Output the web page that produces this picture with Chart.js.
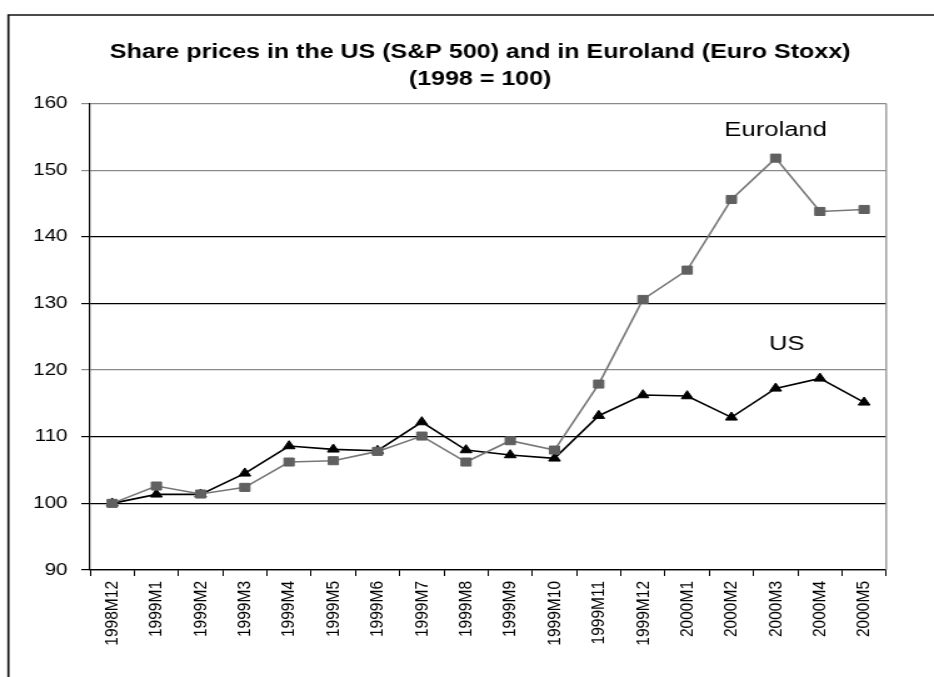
<!DOCTYPE html>
<html>
<head>
<meta charset="utf-8">
<script src="https://cdn.jsdelivr.net/npm/chart.js@4/dist/chart.umd.min.js"></script>
<style>
  html, body { margin: 0; padding: 0; background: #fff; }
</style>
</head>
<body>
<canvas id="c" width="747" height="677" style="display:block;width:934px;height:677px;"></canvas>
<script>
// ---- data ----
const categories = ['1998M12','1999M1','1999M2','1999M3','1999M4','1999M5','1999M6','1999M7','1999M8','1999M9','1999M10','1999M11','1999M12','2000M1','2000M2','2000M3','2000M4','2000M5'];
const euroland = [100, 102.6, 101.4, 102.4, 106.2, 106.4, 107.8, 110.1, 106.2, 109.4, 108.0, 117.9, 130.6, 135.0, 145.6, 151.8, 143.8, 144.1];
const us = [100, 101.35, 101.35, 104.5, 108.6, 108.1, 107.9, 112.2, 108.0, 107.25, 106.75, 113.15, 116.25, 116.1, 112.9, 117.25, 118.75, 115.15];
const titleLines = ['Share prices in the US (S&P 500) and in Euroland (Euro Stoxx)', '(1998 = 100)'];
const seriesNames = ['Euroland', 'US'];
// annotation anchors: [text, category index, value]
const annotations = [['Euroland', 15, 155.9], ['US', 15.25, 123.8]];
const yMin = 90, yMax = 160, yStep = 10;
const grayGridValues = [120, 150, 160];

const FONT = "'Liberation Sans', Arial, sans-serif";

const framePlugin = {
  id: 'frame',
  beforeDraw(chart) {
    const ctx = chart.ctx;
    ctx.save();
    ctx.fillStyle = '#fff';
    ctx.fillRect(0, 0, chart.width, chart.height);
    ctx.strokeStyle = '#111';
    ctx.lineWidth = 1.7;
    ctx.beginPath();
    ctx.moveTo(6.7, chart.height + 2);
    ctx.lineTo(6.7, 15);
    ctx.lineTo(chart.width + 2, 15);
    ctx.stroke();
    // title
    ctx.fillStyle = '#000';
    ctx.font = 'bold 20px ' + FONT;
    ctx.textAlign = 'center';
    ctx.textBaseline = 'middle';
    ctx.fillText(titleLines[0], 384, 52);
    ctx.fillText(titleLines[1], 384, 79);
    ctx.restore();
  },
  afterDraw(chart) {
    const ctx = chart.ctx;
    const a = chart.chartArea;
    ctx.save();
    ctx.strokeStyle = '#888';
    ctx.lineWidth = 1.2;
    ctx.beginPath();
    ctx.moveTo(a.right, a.top);
    ctx.lineTo(a.right, a.bottom);
    ctx.stroke();
    // annotations
    const xs = chart.scales.x, ys = chart.scales.y;
    ctx.fillStyle = '#000';
    ctx.font = '20.5px ' + FONT;
    ctx.textAlign = 'center';
    ctx.textBaseline = 'middle';
    annotations.forEach(([t, xi, v]) => {
      ctx.fillText(t, xs.getPixelForValue(xi), ys.getPixelForValue(v));
    });
    ctx.restore();
  }
};

const canvas = document.getElementById('c');
new Chart(canvas, {
  type: 'line',
  data: {
    labels: categories,
    datasets: [
      {
        label: seriesNames[0],
        data: euroland,
        borderColor: '#777',
        borderWidth: 1.6,
        pointStyle: 'rect',
        pointRadius: 5.7,
        pointBackgroundColor: '#606060',
        pointBorderColor: '#606060',
        pointBorderWidth: 1,
        tension: 0
      },
      {
        label: seriesNames[1],
        data: us,
        borderColor: '#000',
        borderWidth: 1.6,
        pointStyle: 'triangle',
        pointRadius: 5.4,
        pointBackgroundColor: '#000',
        pointBorderColor: '#000',
        pointBorderWidth: 1,
        tension: 0
      }
    ]
  },
  options: {
    responsive: false,
    animation: false,
    devicePixelRatio: 1,
    layout: { padding: { left: 0, right: 38.2, top: 103.5, bottom: 0 } },
    plugins: {
      legend: { display: false },
      tooltip: { enabled: false },
      title: { display: false }
    },
    scales: {
      x: {
        offset: true,
        grid: {
          display: true,
          offset: true,
          drawOnChartArea: false,
          drawTicks: true,
          tickLength: 6,
          color: '#000'
        },
        border: { display: true, color: '#000', width: 1.2 },
        ticks: {
          color: '#000',
          font: { family: FONT, size: 15.5 },
          minRotation: 90,
          maxRotation: 90,
          autoSkip: false,
          padding: 5
        },
        afterFit(scale) { scale.height = 107; }
      },
      y: {
        min: yMin,
        max: yMax,
        grid: {
          color: (c) => (c.tick && grayGridValues.includes(c.tick.value)) ? '#8a8a8a' : '#000',
          lineWidth: 1.2,
          tickLength: 7,
          drawTicks: true
        },
        border: { display: true, color: '#000', width: 1.2 },
        ticks: {
          stepSize: yStep,
          color: '#000',
          font: { family: FONT, size: 16.5 },
          padding: 11
        },
        afterFit(scale) { scale.width = 72; }
      }
    }
  },
  plugins: [framePlugin]
});
canvas.style.width = '934px';
canvas.style.height = '677px';
</script>
</body>
</html>
